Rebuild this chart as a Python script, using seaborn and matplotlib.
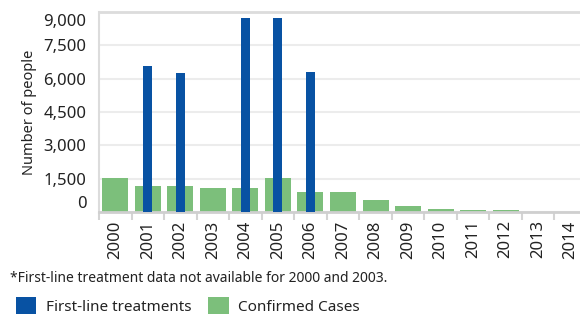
import matplotlib

matplotlib.use("Agg")

import matplotlib.pyplot as plt
import matplotlib.transforms as mtransforms
import numpy as np
import pandas as pd
import seaborn as sns

years = [str(y) for y in range(2000, 2015)]
confirmed_cases = [1520, 1170, 1170, 1080, 1080, 1530, 900, 900, 540, 270, 130, 90, 90, 0, 0]
first_line = [np.nan, 6550, 6250, np.nan, 8750, 8750, 6300,
              np.nan, np.nan, np.nan, np.nan, np.nan, np.nan, np.nan, np.nan]
y_ticks = [0, 1500, 3000, 4500, 6000, 7500, 9000]

BLUE = "#0852a3"
GREEN = "#7cbf7b"
TEXT = "#222222"

sns.set_theme(style="white")
plt.rcParams["font.family"] = ["Noto Sans", "DejaVu Sans"]

df = pd.DataFrame({"year": years, "cases": confirmed_cases, "treatments": first_line})

fig = plt.figure(figsize=(5.8, 3.16), dpi=100)
ax = fig.add_axes([99 / 580, 104 / 316, 488 / 580, 200 / 316])

sns.barplot(data=df, x="year", y="cases", order=years, color=GREEN,
            width=0.8, saturation=1, linewidth=0, ax=ax, label="Confirmed Cases", zorder=2)
tr = df.dropna(subset=["treatments"])
sns.barplot(data=tr, x="year", y="treatments", order=years, color=BLUE,
            width=0.28, saturation=1, linewidth=0, ax=ax, label="First-line treatments", zorder=3)

ax.set_xlim(-0.5, len(years) - 0.5)
ax.set_ylim(0, 9000)
ax.set_yticks(y_ticks)
ax.set_yticklabels([f"{v:,}" for v in y_ticks], fontsize=12, color=TEXT)
ax.yaxis.grid(True, color="#ececec", linewidth=1.5, zorder=0)
ax.set_axisbelow(True)
ax.tick_params(axis="y", length=0, pad=9)

# category edges carry the tick marks, labels sit in the middle
ax.set_xticks(range(len(years)))
ax.set_xticklabels(years, rotation=90, fontsize=12, color=TEXT)
ax.set_xticks(np.arange(-0.5, len(years), 1), minor=True)
ax.tick_params(axis="x", which="major", length=0, pad=6)
ax.tick_params(axis="x", which="minor", length=6, width=1.5, color="#d4d4d4", bottom=True)

labels = ax.get_yticklabels()
labels[0].set_transform(labels[0].get_transform() + mtransforms.ScaledTranslation(0, 10 / 100, fig.dpi_scale_trans))
labels[-1].set_transform(labels[-1].get_transform() + mtransforms.ScaledTranslation(0, -8 / 100, fig.dpi_scale_trans))

ax.set_xlabel("")
ax.set_ylabel("Number of people", fontsize=10.5, color=TEXT, labelpad=5)

ax.spines["top"].set_color("#dcdcdc")
ax.spines["top"].set_linewidth(2)
ax.spines["left"].set_color("#dcdcdc")
ax.spines["left"].set_linewidth(1.5)
ax.spines["bottom"].set_color("#cfcfcf")
ax.spines["bottom"].set_linewidth(2)
ax.spines["right"].set_visible(False)

if ax.get_legend() is not None:
    ax.get_legend().remove()

fig.text(10 / 580, 1 - 279 / 316, "*First-line treatment data not available for 2000 and 2003.",
         fontsize=10, color=TEXT, va="center", ha="left")

handles, lbls = ax.get_legend_handles_labels()
order = [lbls.index("First-line treatments"), lbls.index("Confirmed Cases")]
fig.legend([handles[i] for i in order], [lbls[i] for i in order],
           loc="center left", bbox_to_anchor=(2 / 580, 1 - 306 / 316), ncol=2,
           frameon=False, fontsize=11, handlelength=1.35, handleheight=1.25,
           handletextpad=0.6, columnspacing=1.1, labelcolor=TEXT)

fig.savefig("out.png", dpi=100)
